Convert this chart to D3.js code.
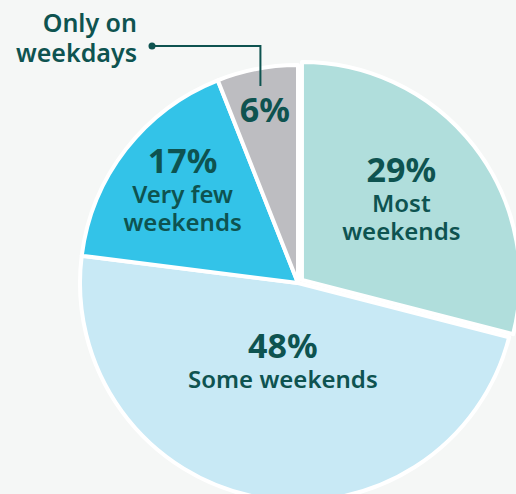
<!DOCTYPE html>
<html>
<head>
<meta charset="utf-8">
<script src="https://cdn.jsdelivr.net/npm/d3@7"></script>
<style>
  body { margin: 0; background: #f5f7f6; }
  svg { display: block; font-family: "Noto Sans", Lato, sans-serif; }
</style>
</head>
<body>
<div id="chart-container"></div>
<script>
// data (clockwise from 12 o'clock)
const categories = ["Most weekends", "Some weekends", "Very few weekends", "Only on weekdays"];
const values = [29, 48, 17, 6];
const labelLines = [["Most", "weekends"], ["Some weekends"], ["Very few", "weekends"], []];
const colors = ["#b0dedc", "#c8e9f5", "#33c3e8", "#bdbdc1"];

let width = 516;
let height = 494;
let cx = 298, cy = 283, radius = 218;
// label radius as fraction of radius
const labelR = [0.6, 0.37, 0.67, 0.81];
const textColor = "#0e5350";

var svg = d3
  .select("#chart-container")
  .append("svg")
  .attr("width", width)
  .attr("height", height);

var g = svg.append("g").attr("transform", `translate(${cx}, ${cy})`);

var pie = d3.pie().sort(null).value((d) => d)(values);
var arc = d3.arc().innerRadius(0).outerRadius(radius);

// slices; first one pulled out a bit
g.selectAll(".slice")
  .data(pie)
  .enter()
  .append("path")
  .attr("class", "slice")
  .attr("d", arc)
  .attr("transform", (d, i) => {
    if (i !== 0) return null;
    let a = (d.startAngle + d.endAngle) / 2;
    return `translate(${5 * Math.sin(a)}, ${-5 * Math.cos(a)})`;
  })
  .style("fill", (d, i) => colors[i])
  .style("stroke", "#fff")
  .style("stroke-width", 4)
  .style("stroke-linejoin", "round");

// labels: percentage on top, category name below
pie.forEach((d, i) => {
  let a = (d.startAngle + d.endAngle) / 2;
  let r = radius * labelR[i];
  let x = r * Math.sin(a);
  let y = -r * Math.cos(a);
  let n = labelLines[i].length;
  let base = y + (25 - 29 * n) / 2 - 2 * n;
  let t = g.append("text")
    .attr("text-anchor", "middle")
    .style("fill", textColor);
  t.append("tspan")
    .attr("x", x)
    .attr("y", base)
    .style("font-size", "34px")
    .style("font-weight", 700)
    .text(values[i] + "%");
  labelLines[i].forEach((line, j) => {
    t.append("tspan")
      .attr("x", x)
      .attr("y", base + 30 + j * 28)
      .style("font-size", "24px")
      .style("font-weight", 600)
      .text(line);
  });
});

// callout for the small slice
let last = pie[3];
let am = (last.startAngle + last.endAngle) / 2;
let sx = radius * 0.92 * Math.sin(am);
let sy = -radius * 0.92 * Math.cos(am);
let topY = -radius - 19;
let endX = -146;
g.append("path")
  .attr("d", `M${sx},${sy} L${sx},${topY} L${endX},${topY}`)
  .style("fill", "none")
  .style("stroke", textColor)
  .style("stroke-width", 2);
g.append("circle")
  .attr("cx", endX)
  .attr("cy", topY)
  .attr("r", 3.5)
  .style("fill", textColor);

let callout = g.append("text")
  .attr("text-anchor", "end")
  .style("fill", textColor)
  .style("font-size", "25px")
  .style("font-weight", 600);
["Only on", "weekdays"].forEach((line, j) => {
  callout.append("tspan")
    .attr("x", endX - 15)
    .attr("y", topY - 14 + j * 30)
    .text(line);
});
</script>
</body>
</html>
